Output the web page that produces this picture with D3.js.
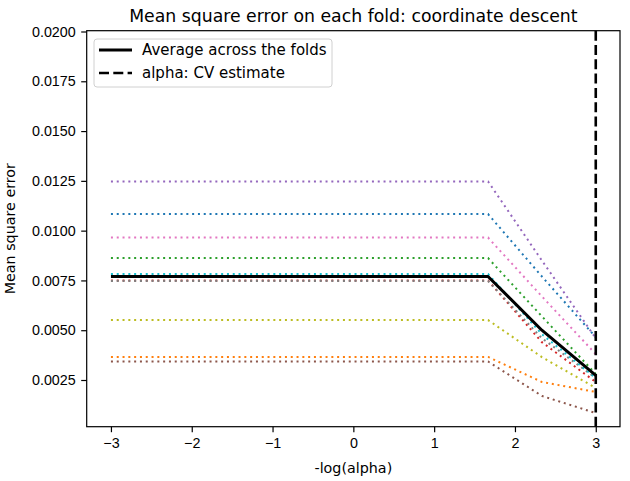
<!DOCTYPE html>
<html>
<head>
<meta charset="utf-8">
<script src="https://cdn.jsdelivr.net/npm/d3@7"></script>
<style>
  body { margin: 0; background: #fff; }
  svg { display: block; font-family: "DejaVu Sans", sans-serif; }
  .axis path, .axis line { stroke: #000; stroke-width: 1.2; }
  .axis text { font-size: 14.3px; fill: #000; }
</style>
</head>
<body>
<svg id="chart" width="630" height="481"></svg>
<script>
// -log(alpha) grid
var logAlphas = [-3, -2.333, -1.667, -1, -0.333, 0.333, 1, 1.667, 2.333, 3];

// mean square error per fold (tab10 order)
var fold0 = [0.01083, 0.01083, 0.01083, 0.01083, 0.01083, 0.01083, 0.01083, 0.01083, 0.0077, 0.00465];
var fold1 = [0.00366, 0.00366, 0.00366, 0.00366, 0.00366, 0.00366, 0.00366, 0.00366, 0.0024, 0.0019];
var fold2 = [0.00862, 0.00862, 0.00862, 0.00862, 0.00862, 0.00862, 0.00862, 0.00862, 0.0057, 0.0028];
var fold3 = [0.0075, 0.0075, 0.0075, 0.0075, 0.0075, 0.0075, 0.0075, 0.0075, 0.0044, 0.0024];
var fold4 = [0.01247, 0.01247, 0.01247, 0.01247, 0.01247, 0.01247, 0.01247, 0.01247, 0.0085, 0.0046];
var fold5 = [0.00343, 0.00343, 0.00343, 0.00343, 0.00343, 0.00343, 0.00343, 0.00343, 0.0017, 0.00084];
var fold6 = [0.00965, 0.00965, 0.00965, 0.00965, 0.00965, 0.00965, 0.00965, 0.00965, 0.0067, 0.0038];
var fold7 = [0.00747, 0.00747, 0.00747, 0.00747, 0.00747, 0.00747, 0.00747, 0.00747, 0.0046, 0.0026];
var fold8 = [0.00551, 0.00551, 0.00551, 0.00551, 0.00551, 0.00551, 0.00551, 0.00551, 0.00365, 0.0021];
var fold9 = [0.00782, 0.00782, 0.00782, 0.00782, 0.00782, 0.00782, 0.00782, 0.00782, 0.0048, 0.0026];
var folds = [fold0, fold1, fold2, fold3, fold4, fold5, fold6, fold7, fold8, fold9];

var average = [0.0077, 0.0077, 0.0077, 0.0077, 0.0077, 0.0077, 0.0077, 0.0077, 0.0050, 0.00273];
var alphaCV = 3;

var xTicks = [-3, -2, -1, 0, 1, 2, 3];
var yTicks = [0.0025, 0.0050, 0.0075, 0.0100, 0.0125, 0.0150, 0.0175, 0.0200];
var legendLabels = ["Average across the folds", "alpha: CV estimate"];

var colors = ["#1f77b4", "#ff7f0e", "#2ca02c", "#d62728", "#9467bd",
              "#8c564b", "#e377c2", "#7f7f7f", "#bcbd22", "#17becf"];

var [plotL, plotR, plotT, plotB] = [86.7, 620, 30.7, 426.7];

/** Scales */
var xScale = d3.scaleLinear().domain([-3.3, 3.3]).range([plotL, plotR]);
var yScale = d3.scaleLinear().domain([0.000155, 0.02004]).range([plotB, plotT]);

var svg = d3.select("#chart");

var line = d3.line()
    .x((d, i) => xScale(logAlphas[i]))
    .y(d => yScale(d));

/** Fold lines */
svg.append("g").selectAll("path")
    .data(folds)
    .enter()
    .append("path")
    .attr("d", line)
    .attr("fill", "none")
    .attr("stroke", (d, i) => colors[i])
    .attr("stroke-width", 2)
    .attr("stroke-dasharray", "2,3.8");

/** Average */
svg.append("path")
    .attr("d", line(average))
    .attr("fill", "none")
    .attr("stroke", "#000")
    .attr("stroke-width", 3)
    .attr("stroke-linejoin", "round");

/** CV estimate */
svg.append("line")
    .attr("x1", xScale(alphaCV)).attr("x2", xScale(alphaCV))
    .attr("y1", plotT).attr("y2", plotB)
    .attr("stroke", "#000")
    .attr("stroke-width", 2.6)
    .attr("stroke-dasharray", "10,4.3");

/** Axes */
svg.append("g")
    .attr("class", "axis")
    .attr("transform", "translate(0," + plotB + ")")
    .call(d3.axisBottom(xScale).tickValues(xTicks).tickFormat(d3.format("d")).tickSize(5.5).tickPadding(5.5))
    .call(g => g.select(".domain").remove());
svg.append("g")
    .attr("class", "axis")
    .attr("transform", "translate(" + plotL + ",0)")
    .call(d3.axisLeft(yScale).tickValues(yTicks).tickFormat(d3.format(".4f")).tickSize(5.5).tickPadding(5.5))
    .call(g => g.select(".domain").remove());

svg.append("rect")
    .attr("x", plotL).attr("y", plotT)
    .attr("width", plotR - plotL).attr("height", plotB - plotT)
    .attr("fill", "none")
    .attr("stroke", "#000")
    .attr("stroke-width", 1.2);

/** Labels */
svg.append("text")
    .attr("x", (plotL + plotR) / 2).attr("y", 22)
    .attr("text-anchor", "middle")
    .attr("font-size", 17.3)
    .text("Mean square error on each fold: coordinate descent");
svg.append("text")
    .attr("x", (plotL + plotR) / 2).attr("y", 473)
    .attr("text-anchor", "middle")
    .attr("font-size", 14.3)
    .text("-log(alpha)");
svg.append("text")
    .attr("transform", "translate(15," + (plotT + plotB) / 2 + ") rotate(-90)")
    .attr("text-anchor", "middle")
    .attr("font-size", 14.3)
    .text("Mean square error");

/** Legend */
var legend = svg.append("g").attr("transform", "translate(94,39)");
legend.append("rect")
    .attr("width", 238).attr("height", 48)
    .attr("rx", 3)
    .attr("fill", "#fff").attr("fill-opacity", 0.8)
    .attr("stroke", "#d0d0d0");
legendLabels.forEach((label, i) => {
    var y = 11 + i * 23;
    legend.append("line")
        .attr("x1", 5).attr("x2", 38)
        .attr("y1", y).attr("y2", y)
        .attr("stroke", "#000")
        .attr("stroke-width", i === 0 ? 3 : 2.6)
        .attr("stroke-dasharray", i === 0 ? null : "10,4.3");
    legend.append("text")
        .attr("x", 48).attr("y", y + 5)
        .attr("font-size", 15)
        .text(label);
});
</script>
</body>
</html>
